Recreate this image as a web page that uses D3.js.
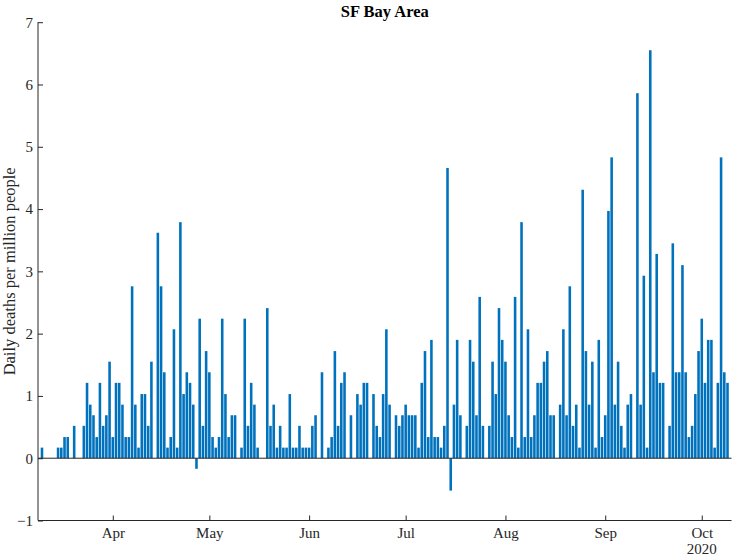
<!DOCTYPE html>
<html>
<head>
<meta charset="utf-8">
<script src="https://cdn.jsdelivr.net/npm/d3@7/dist/d3.min.js"></script>
<style>
  html, body { margin: 0; padding: 0; background: #fff; }
  svg { display: block; font-family: "Liberation Serif", "Times New Roman", serif; }
</style>
</head>
<body>
<svg id="chart" width="732" height="558"></svg>
<script>
// ---- data ----
const title = "SF Bay Area";
const yLabel = "Daily deaths per million people";
const startDate = "2020-03-10";
// daily deaths per million people, one value per day from startDate
const values = [
  0.17, 0, 0, 0, 0, 0.17, 0.17, 0.34, 0.34, 0, 0.52, 0, 0, 0.52, 1.21, 0.86, 0.69, 0.34, 1.21, 0.52, 0.69, 1.55,
  0.34, 1.21, 1.21, 0.86, 0.34, 0.34, 2.76, 0.86, 0.17, 1.03, 1.03, 0.52, 1.55, 0, 3.62, 2.76, 1.38, 0.17, 0.34, 2.07,
  0.17, 3.79, 1.03, 1.38, 1.21, 0.86, -0.17, 2.24, 0.52, 1.72,
  1.38, 0.34, 0.17, 0.34, 2.24, 1.03, 0.34, 0.69, 0.69, 0, 0.17, 2.24, 0.52, 1.21, 0.86, 0.17, 0, 0, 2.41, 0.52,
  0.86, 0.17, 0.52, 0.17, 0.17, 1.03, 0.17, 0.17, 0.52, 0.17, 0.17,
  0.17, 0.52, 0.69, 0, 1.38, 0, 0.17, 0.34, 1.72, 0.52, 1.21, 1.38, 0, 0.69, 0, 1.03, 0.86, 1.21, 1.21, 0, 1.03,
  0.52, 0.34, 1.03, 2.07, 0.86, 0, 0.69, 0.52, 0.69,
  0.86, 0.69, 0.69, 0.69, 0.17, 1.21, 1.72, 0.34, 1.90, 0.34, 0.34, 0.17, 0.52, 4.66, -0.52, 0.86, 1.90, 0.69, 0,
  0.52, 1.90, 1.55, 0.69, 2.59, 0.52, 0, 0.52, 1.55, 1.03, 2.41, 1.90,
  1.55, 0.69, 0.34, 2.59, 0.17, 3.79, 0.34, 2.07, 0.34, 0.69, 1.21, 1.21, 1.55, 1.72, 0.69, 0.69, 0, 0.86, 2.07,
  0.69, 2.76, 0.52, 0.86, 0.17, 4.31, 1.72, 0.86, 1.55, 0.17, 1.90, 0.34,
  0.69, 3.97, 4.83, 0.86, 1.55, 0.52, 0.17, 0.86, 1.03, 0, 5.86, 0.86, 2.93, 0.17, 6.55, 1.38, 3.28, 1.21, 1.21, 0,
  0.52, 3.45, 1.38, 1.38, 3.10, 1.38, 0.34, 0.52, 1.03, 1.72,
  2.24, 1.21, 1.90, 1.90, 0.17, 1.21, 4.83, 1.38, 1.21
];
const yTicks = [-1, 0, 1, 2, 3, 4, 5, 6, 7];
const monthTicks = ["2020-04-01", "2020-05-01", "2020-06-01", "2020-07-01", "2020-08-01", "2020-09-01", "2020-10-01"];
const monthLabels = ["Apr", "May", "Jun", "Jul", "Aug", "Sep", "Oct"];
const yearLabel = "2020";

// ---- layout ----
const plotLeft = 38, plotRight = 731.5, plotTop = 22.2, plotBottom = 520.5;
const DAY = 864e5;
const parse = d3.utcParse("%Y-%m-%d");
const t0 = parse(startDate);
const data = values.map((v, i) => ({ date: new Date(t0.getTime() + i * DAY), v }));
const firstT = data[0].date.getTime(), lastT = data[data.length - 1].date.getTime();
const pad = 1.24 * DAY;

const x = d3.scaleUtc().domain([new Date(firstT - pad), new Date(lastT + pad)]).range([plotLeft, plotRight]);
const y = d3.scaleLinear().domain([-1, 7]).range([plotBottom, plotTop]);
const dayW = x(new Date(firstT + DAY)) - x(new Date(firstT));
const barW = dayW * 0.8;

const svg = d3.select("#chart");
const axisColor = "#262626";
const tickFont = "15px";

// bars
svg.append("g").selectAll("rect").data(data.filter(d => d.v !== 0)).join("rect")
  .attr("x", d => x(d.date) - barW / 2)
  .attr("width", barW)
  .attr("y", d => Math.min(y(d.v), y(0)))
  .attr("height", d => Math.abs(y(d.v) - y(0)))
  .attr("fill", "#0072BD");

// zero baseline
svg.append("line")
  .attr("x1", plotLeft).attr("x2", plotRight)
  .attr("y1", y(0)).attr("y2", y(0))
  .attr("stroke", axisColor).attr("stroke-width", 1);

// y axis
const yAxis = d3.axisLeft(y).tickValues(yTicks).tickSize(-5).tickPadding(5).tickFormat(d3.format("d"));
const gy = svg.append("g").attr("transform", `translate(${plotLeft},0)`).call(yAxis);
gy.select(".domain").attr("stroke", axisColor).attr("d", `M0,${plotBottom}V${plotTop}`);
gy.selectAll(".tick line").attr("stroke", axisColor);
gy.selectAll(".tick text").attr("fill", axisColor).style("font-size", tickFont)
  .style("font-family", "Liberation Serif, serif");

// x axis
const xAxis = d3.axisBottom(x).tickValues(monthTicks.map(parse)).tickSize(-5).tickPadding(7)
  .tickFormat((d, i) => monthLabels[i]);
const gx = svg.append("g").attr("transform", `translate(0,${plotBottom})`).call(xAxis);
gx.select(".domain").attr("stroke", axisColor).attr("d", `M${plotLeft},0H${plotRight}`);
gx.selectAll(".tick line").attr("stroke", axisColor);
gx.selectAll(".tick text").attr("fill", axisColor).style("font-size", tickFont)
  .style("font-family", "Liberation Serif, serif");

// year label under last month
svg.append("text")
  .attr("x", x(parse(monthTicks[monthTicks.length - 1])))
  .attr("y", 554)
  .attr("text-anchor", "middle")
  .attr("fill", axisColor)
  .style("font-size", tickFont)
  .text(yearLabel);

// y label
svg.append("text")
  .attr("transform", `translate(15,${(plotTop + plotBottom) / 2}) rotate(-90)`)
  .attr("text-anchor", "middle")
  .attr("fill", axisColor)
  .style("font-size", "16.5px")
  .text(yLabel);

// title
svg.append("text")
  .attr("x", (plotLeft + plotRight) / 2)
  .attr("y", 17)
  .attr("text-anchor", "middle")
  .attr("fill", "#000")
  .style("font-size", "16.5px")
  .style("font-weight", "bold")
  .text(title);
</script>
</body>
</html>
